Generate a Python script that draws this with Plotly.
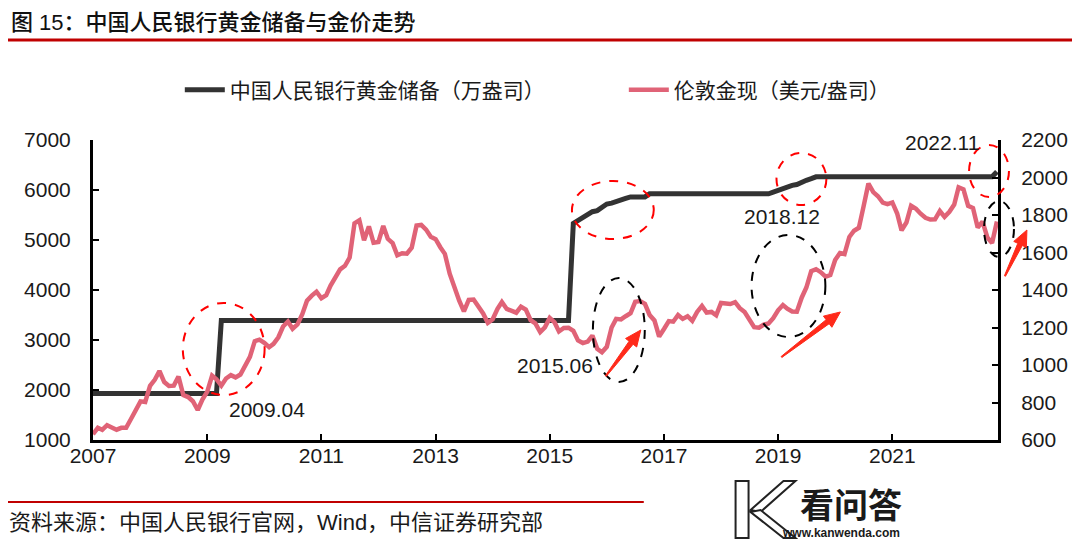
import math
import plotly.graph_objects as go
import pandas as pd

# ---------------- data ----------------
months = pd.date_range("2007-01-01", "2022-11-01", freq="MS")

gold_price = [
    # 2007
    631, 665, 654, 679, 667, 655, 665, 665, 712, 754, 806, 803,
    # 2008
    889, 922, 968, 909, 888, 890, 939, 839, 829, 807, 760, 816,
    # 2009
    858, 943, 924, 890, 928, 946, 934, 949, 996, 1043, 1127, 1135,
    # 2010
    1118, 1095, 1113, 1148, 1205, 1232, 1193, 1216, 1271, 1343, 1370, 1391,
    # 2011
    1356, 1372, 1424, 1474, 1510, 1529, 1573, 1756, 1772, 1666, 1739, 1652,
    # 2012
    1656, 1742, 1673, 1650, 1585, 1596, 1594, 1626, 1744, 1747, 1722, 1684,
    # 2013
    1671, 1627, 1593, 1487, 1414, 1343, 1286, 1347, 1349, 1316, 1275, 1225,
    # 2014
    1244, 1300, 1336, 1299, 1288, 1279, 1311, 1296, 1239, 1222, 1176, 1201,
    # 2015
    1251, 1227, 1179, 1198, 1199, 1182, 1131, 1117, 1125, 1157, 1086, 1068,
    # 2016
    1097, 1200, 1246, 1243, 1260, 1276, 1337, 1341, 1326, 1267, 1238, 1152,
    # 2017
    1192, 1234, 1231, 1267, 1246, 1260, 1236, 1283, 1315, 1280, 1283, 1265,
    # 2018
    1331, 1331, 1325, 1335, 1303, 1282, 1238, 1202, 1199, 1215, 1221, 1250,
    # 2019
    1292, 1320, 1300, 1285, 1284, 1359, 1413, 1500, 1511, 1495, 1471, 1480,
    # 2020
    1560, 1597, 1592, 1683, 1716, 1732, 1846, 1968, 1922, 1900, 1866, 1858,
    # 2021
    1867, 1808, 1718, 1760, 1850, 1834, 1807, 1785, 1776, 1777, 1821, 1790,
    # 2022
    1817, 1856, 1948, 1937, 1849, 1837, 1733, 1765, 1681, 1650, 1765,
]

# PBoC gold reserve (10k oz): months where the value is reported / changes
reserve_dates = [
    "2007-01-01", "2009-03-01", "2009-04-01", "2015-05-01",
    "2015-06-01", "2015-07-01", "2015-08-01", "2015-09-01", "2015-10-01",
    "2015-11-01", "2015-12-01", "2016-01-01", "2016-02-01", "2016-03-01",
    "2016-04-01", "2016-05-01", "2016-06-01", "2016-09-01", "2016-10-01",
    "2018-11-01", "2018-12-01", "2019-01-01", "2019-02-01", "2019-03-01",
    "2019-04-01", "2019-05-01", "2019-06-01", "2019-07-01", "2019-08-01",
    "2019-09-01", "2022-10-01", "2022-11-01",
]
reserve_values = [
    1929, 1929, 3389, 3389,
    5332, 5393, 5452, 5514, 5566,
    5588, 5666, 5719, 5737, 5774,
    5806, 5831, 5862, 5862, 5924,
    5924, 5956, 5994, 6026, 6062,
    6092, 6110, 6161, 6194, 6226,
    6264, 6264, 6367,
]

left_ticks = [1000, 2000, 3000, 4000, 5000, 6000, 7000]
right_ticks = [600, 800, 1000, 1200, 1400, 1600, 1800, 2000, 2200]

name_reserve = "中国人民银行黄金储备（万盎司）"
name_price = "伦敦金现（美元/盎司）"
title_text = "图 15：中国人民银行黄金储备与金价走势"
source_text = "资料来源：中国人民银行官网，Wind，中信证券研究部"

# ---------------- layout helpers ----------------
# the page body has an 8px margin, so the figure is drawn 8px in from the window corner
OFF = 8
W, H = 1080 - OFF, 545 - OFF
L, R, T, B = 93, 1000, 140, 440   # plot area in window pixels


def pxx(x):
    return (x - L) / (R - L)


def pxy(y):
    return (B - y) / (B - T)


FONT = "Liberation Sans, Arial, Noto Sans CJK SC, sans-serif"
TXT = "#1a1a1a"

fig = go.Figure()
fig.add_trace(go.Scatter(
    x=pd.to_datetime(reserve_dates), y=reserve_values, name=name_reserve,
    mode="lines", line=dict(color="#333333", width=5), yaxis="y", legend="legend",
))
fig.add_trace(go.Scatter(
    x=months, y=gold_price, name=name_price,
    mode="lines", line=dict(color="#E06377", width=4.5), yaxis="y2", legend="legend2",
))

shapes = []
shapes.append(dict(type="line", xref="paper", yref="paper",
                   x0=pxx(5), x1=pxx(1080), y0=pxy(40), y1=pxy(40),
                   line=dict(color="#C00000", width=3)))
shapes.append(dict(type="line", xref="paper", yref="paper",
                   x0=pxx(0), x1=pxx(645), y0=pxy(502), y1=pxy(502),
                   line=dict(color="#C00000", width=2)))

ellipses = [
    (224, 349, 41, 46, "#FF0000"),
    (614, 210, 41, 29, "#FF0000"),
    (803, 179, 25, 26, "#FF0000"),
    (991, 171, 20, 26, "#FF0000"),
    (620, 330, 26, 52, "#000000"),
    (790, 286, 37, 51, "#000000"),
    (1001, 229, 15, 28, "#000000"),
]
for cx, cy, rx, ry, c in ellipses:
    shapes.append(dict(type="circle", xref="paper", yref="paper",
                       x0=pxx(cx - rx), x1=pxx(cx + rx),
                       y0=pxy(cy + ry), y1=pxy(cy - ry),
                       line=dict(color=c, width=2, dash="dash")))


def poly(pts):
    return "M " + " L ".join(f"{pxx(x):.5f},{pxy(y):.5f}" for x, y in pts) + " Z"


def arrow_path(tx, ty, hx, hy):
    dx, dy = hx - tx, hy - ty
    ln = math.hypot(dx, dy)
    ux, uy = dx / ln, dy / ln
    nx, ny = -uy, ux
    head_len, head_w, neck_w, tail_w = 16, 7, 2.5, 0.6
    bx, by = hx - ux * head_len, hy - uy * head_len
    pts = [
        (tx + nx * tail_w, ty + ny * tail_w),
        (bx + nx * neck_w, by + ny * neck_w),
        (bx + nx * head_w, by + ny * head_w),
        (hx, hy),
        (bx - nx * head_w, by - ny * head_w),
        (bx - nx * neck_w, by - ny * neck_w),
        (tx - nx * tail_w, ty - ny * tail_w),
    ]
    return poly(pts)


for tx, ty, hx, hy in [(607, 376, 642, 330), (783, 357, 842, 312), (1007, 276, 1029, 230)]:
    shapes.append(dict(type="path", xref="paper", yref="paper",
                       path=arrow_path(tx, ty, hx, hy),
                       fillcolor="#FF2A1A", line=dict(color="#FF2A1A", width=1)))

logo = [
    [(737, 481), (750, 481), (750, 538), (737, 538)],
    [(752, 510), (785, 481), (797, 481), (762, 512)],
    [(752, 512), (762, 510), (797, 538), (785, 538)],
]
for p in logo:
    shapes.append(dict(type="path", xref="paper", yref="paper", path=poly(p),
                       fillcolor="white", line=dict(color="#222222", width=2)))

annotations = [
    dict(text=title_text, x=pxx(9), y=pxy(22), xanchor="left", yanchor="middle",
         font=dict(size=22, color="#111111", family=FONT, weight=500)),
    dict(text=source_text, x=pxx(7), y=pxy(522), xanchor="left", yanchor="middle",
         font=dict(size=22, color=TXT, family=FONT)),
    dict(text="<b>看问答</b>", x=pxx(800), y=pxy(506), xanchor="left", yanchor="middle",
         font=dict(size=34, color="#1a1a1a", family=FONT)),
    dict(text="<b>www.kanwenda.com</b>", x=pxx(782), y=pxy(533), xanchor="left", yanchor="middle",
         font=dict(size=12, color="#1a1a1a", family=FONT)),
]
for label, lx, ly in [("2009.04", 227, 409), ("2015.06", 516, 365),
                      ("2018.12", 743, 216), ("2022.11", 905, 142)]:
    annotations.append(dict(text=label, x=pxx(lx), y=pxy(ly), xanchor="left", yanchor="middle",
                            font=dict(size=21, color=TXT, family=FONT)))
for a in annotations:
    a.update(xref="paper", yref="paper", showarrow=False)

axis_common = dict(showline=True, linecolor="black", linewidth=3,
                   ticks="inside", ticklen=6, tickwidth=2, tickcolor="black",
                   showgrid=False, zeroline=False,
                   tickfont=dict(size=21, color=TXT, family=FONT))

legend_common = dict(orientation="h", xanchor="left", yanchor="middle",
                     font=dict(size=21, color=TXT, family=FONT),
                     bgcolor="rgba(0,0,0,0)", itemwidth=40)

fig.update_layout(
    width=W, height=H,
    margin=dict(l=L - OFF, r=W - (R - OFF), t=T - OFF, b=H - (B - OFF), pad=0),
    paper_bgcolor="white", plot_bgcolor="white",
    font=dict(family=FONT, color=TXT),
    xaxis=dict(type="date", range=["2007-01-01", "2022-11-08"],
               tick0="2007-01-01", dtick="M24", tickformat="%Y",
               ticklabelstandoff=-5, **axis_common),
    yaxis=dict(range=[1000, 7000], tickvals=left_ticks, ticklabelstandoff=15,
               **axis_common),
    yaxis2=dict(range=[600, 2200], tickvals=right_ticks, overlaying="y", side="right",
                ticklabelstandoff=16, **axis_common),
    legend=dict(x=pxx(180), y=pxy(90), **legend_common),
    legend2=dict(x=pxx(625), y=pxy(90), **legend_common),
    shapes=shapes,
    annotations=annotations,
    showlegend=True,
)

fig.write_html("out.html")
